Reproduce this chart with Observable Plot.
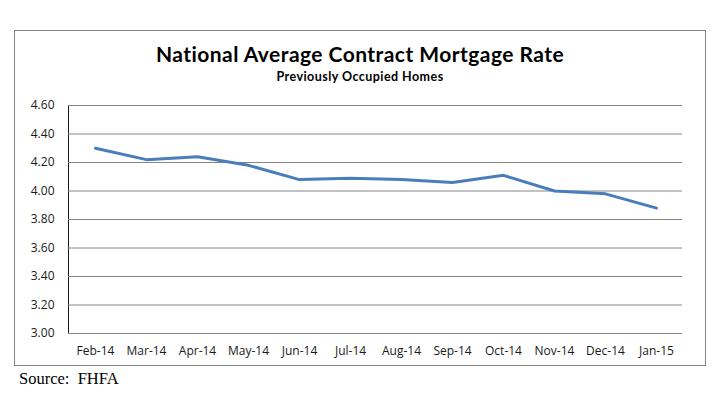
<!DOCTYPE html>
<html>
<head>
<meta charset="utf-8">
<script src="https://cdn.jsdelivr.net/npm/d3@7"></script>
<script src="https://cdn.jsdelivr.net/npm/@observablehq/plot@0.6"></script>
<style>
  html, body { margin: 0; padding: 0; background: #fff; }
  #wrap { position: relative; width: 720px; height: 397px; overflow: hidden; }
  #box { position: absolute; left: 14px; top: 30px; width: 692px; height: 336px; border: 1px solid #868686; box-sizing: border-box; }
  #title { position: absolute; left: 0; width: 720px; top: 43px; line-height: 1; text-align: center; font-family: Lato, sans-serif; font-weight: bold; font-size: 21px; color: #000; letter-spacing: 0.45px; white-space: nowrap; }
  #subtitle { position: absolute; left: 0; width: 720px; top: 71px; line-height: 1; text-align: center; font-family: Lato, sans-serif; font-weight: bold; font-size: 12.5px; color: #000; letter-spacing: 0.45px; white-space: nowrap; }
  #source { position: absolute; left: 19px; top: 371px; line-height: 1; font-family: "Liberation Serif", serif; font-size: 16.5px; color: #000; white-space: nowrap; }
  #chart { position: absolute; left: 0; top: 0; }
</style>
</head>
<body>
<div id="wrap">
  <div id="box"></div>
  <div id="chart"></div>
  <div id="title">National Average Contract Mortgage Rate</div>
  <div id="subtitle">Previously Occupied Homes</div>
  <div id="source">Source:&nbsp; FHFA</div>
</div>
<script>
const months = ["Feb-14","Mar-14","Apr-14","May-14","Jun-14","Jul-14","Aug-14","Sep-14","Oct-14","Nov-14","Dec-14","Jan-15"];
const rates = [4.30, 4.22, 4.24, 4.18, 4.08, 4.09, 4.08, 4.06, 4.11, 4.00, 3.98, 3.88];
const yTicks = [3.00, 3.20, 3.40, 3.60, 3.80, 4.00, 4.20, 4.40, 4.60];

const data = months.map((m, i) => ({month: m, rate: rates[i]}));

const chart = Plot.plot({
  width: 720,
  height: 397,
  marginLeft: 68,
  marginRight: 38,
  marginTop: 105,
  marginBottom: 64,
  style: { background: "transparent", fontFamily: "'Open Sans', sans-serif", fontSize: "12px", color: "#1a1a1a" },
  x: { type: "point", domain: months, padding: 0.5, label: null, tickSize: 0, tickPadding: 13 },
  y: { domain: [3.0, 4.6], ticks: yTicks, tickFormat: d3.format(".2f"), label: null, tickSize: 0, tickPadding: 14, line: true },
  marks: [
    Plot.ruleY(yTicks, { stroke: "#868686", strokeWidth: 1, strokeOpacity: 1 }),
    Plot.line(data, { x: "month", y: "rate", stroke: "#4A7EBB", strokeWidth: 3, strokeLinejoin: "round" })
  ]
});
chart.querySelectorAll("[aria-label='y-axis'] path, g[aria-label='y-axis line'] line").forEach(e => e.setAttribute("stroke", "#868686"));
document.getElementById("chart").appendChild(chart);
</script>
</body>
</html>
